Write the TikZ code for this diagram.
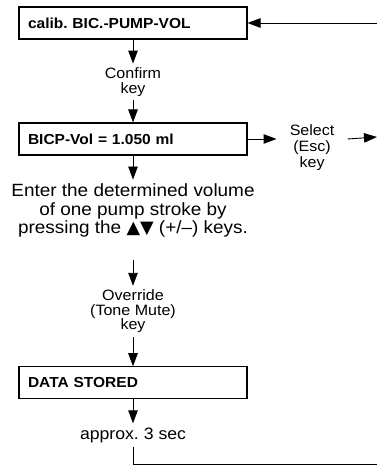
\documentclass[tikz,border=0pt]{standalone}
\usepackage{fontspec}
\setmainfont[FakeStretch=1.07]{Liberation Sans}
\newfontfamily\symfont{DejaVu Sans}
\usetikzlibrary{positioning,arrows.meta}
\frenchspacing

\begin{document}
\begin{tikzpicture}[
  x=1pt, y=1pt,
  node distance=24pt,
  screen/.style={draw, line width=1.1pt, align=left, text width=210pt,
    inner xsep=9pt, minimum height=32pt,
    font=\fontsize{14.5}{16}\selectfont\bfseries},
  arrow/.style={-{Triangle[length=13pt,width=9.5pt]}, line width=0.9pt},
  wire/.style={line width=0.9pt},
  lbl/.style={align=center, inner sep=4pt, font=\fontsize{15}{14.5}\selectfont},
  note/.style={align=center, inner sep=4pt, font=\fontsize{17.7}{18.5}\selectfont}
]
\useasboundingbox (0,0) rectangle (377,-466);

\node[screen] (calib) at (133,-23) {calib. BIC.-PUMP-VOL};
\node[lbl, below=24pt of calib] (confirm) {Confirm\\key};
\node[screen, below=22pt of confirm] (vol) {BICP-Vol = 1.050 ml};
\node[lbl, right=29pt of vol, yshift=-9pt, inner xsep=13pt,
  font=\fontsize{15}{16}\selectfont] (select) {Select\\(Esc)\\key};
\node[note, below=24pt of vol] (enter) {Enter the determined volume\\of one pump stroke by\\pressing the {\symfont ▲▼} (+/–) keys.};
\node[lbl, below=44.4pt of enter] (override) {Override\\(Tone Mute)\\key};
\node[screen, below=29pt of override] (stored) {DATA STORED};
\node[note, below=24pt of stored, font=\fontsize{16.5}{18}\selectfont] (approx) {approx. 3 sec};

\coordinate (backin) at (377,-23);
\coordinate (escout) at (377,-137);
\coordinate (backout) at (377,-464);

% main column, top to bottom
\draw[arrow] (calib) -- (confirm);
\draw[arrow] (confirm) -- (vol);
\draw[arrow] (vol) -- (enter);
\draw[arrow, shorten <=18.4pt] (enter) -- (override);
\draw[arrow] (override) -- (stored);
\draw[arrow] (stored) -- (approx);

% branch to the right
\draw[arrow] (vol.east) -- (vol.east -| select.west);
\draw[arrow] (select.east |- vol.east) -- (escout);

% return lines off the right edge
\draw[arrow] (backin) -- (calib.east);
\draw[wire] (approx.south) |- (backout);
\end{tikzpicture}
\end{document}
